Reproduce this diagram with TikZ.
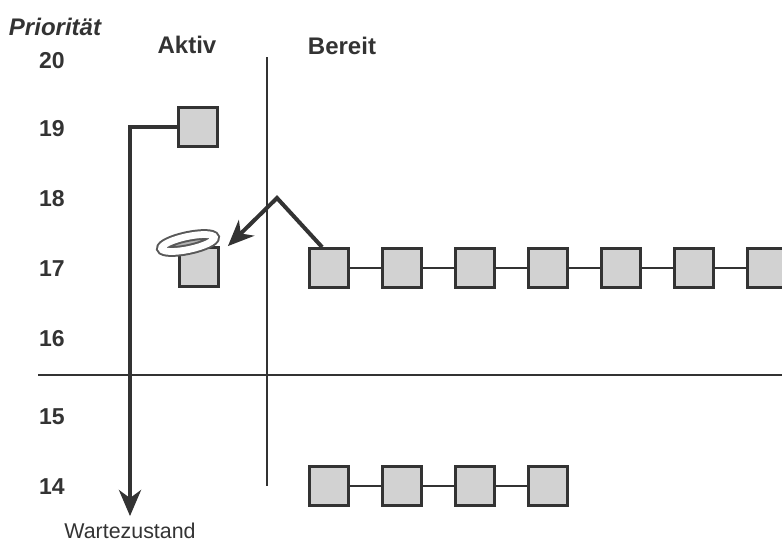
\documentclass[tikz,border=0pt]{standalone}
\usepackage{fontspec}
\setmainfont{Liberation Sans}
\usetikzlibrary{arrows.meta,positioning,shapes.geometric}
\definecolor{ink}{HTML}{333333}
\definecolor{boxgray}{HTML}{D2D2D2}

\begin{document}
\begin{tikzpicture}[x=0.5pt,y=-0.5pt,>={Stealth[length=13pt,width=11pt,inset=4pt]},node distance=36.5pt,on grid,
	proc/.style={draw=ink,fill=boxgray,line width=1.4pt,minimum size=19.5pt,inner sep=0pt},
	link/.style={-,draw=ink,line width=0.9pt},
	move/.style={->,draw=ink,line width=2pt},
	prio/.style={text=ink,font=\fontsize{11.5}{13}\selectfont\bfseries},
	head/.style={text=ink,font=\fontsize{12}{14}\selectfont\bfseries}]
	\useasboundingbox (0,0) rectangle (782,543);
	
	% Achsen
	\draw[ink,line width=1pt] (267,57) -- (267,486);
	\draw[ink,line width=1pt] (38,375) -- (782,375);
	
	\node[head,font=\fontsize{12}{14}\selectfont\bfseries\itshape] (prio) at (55,27) {Priorität};
	\node[head] (aktiv)  at (187,45) {Aktiv};
	\node[head] (bereit) at (342,46) {Bereit};
	\foreach \n/\y in {20/61,19/129,18/199,17/269,16/339,15/417,14/487}
		\node[prio] (p\n) at (52,\y) {\n};
	
	% aktive Prozesse
	\node[proc] (a19) at (198,127) {};
	\node[proc] (a17) at (199,267) {};
	\node[draw=gray!70!black,double=white,double distance=3.4pt,line width=1pt,fill=gray!60,
		ellipse,minimum width=27pt,minimum height=6.5pt,inner sep=0pt,rotate=12] (halo) at (188,243) {};
	
	% Warteschlangen
	\node[proc] (r1) at (329,268) {};
	\foreach \i [remember=\i as \j (initially 1)] in {2,...,7}
		\node[proc] (r\i) [right =of r\j] {};
	\node[proc] (w1) at (329,486) {};
	\foreach \i [remember=\i as \j (initially 1)] in {2,...,4}
		\node[proc] (w\i) [right =of w\j] {};
	\foreach \i [remember=\i as \j (initially 1)] in {2,...,7}
		\path (r\j) edge [link] (r\i);
	\foreach \i [remember=\i as \j (initially 1)] in {2,...,4}
		\path (w\j) edge [link] (w\i);
	
	% Uebergaenge
	\coordinate (bend) at (277,198);
	\draw[move] ([xshift=7pt]r1.north west) -- (bend) -- ([xshift=4pt]a17.north east);
	\node[text=ink,font=\fontsize{10.7}{12}\selectfont] (wz) at (130,531) {Wartezustand};
	\draw[move] (a19.west) -| (wz.north);
	
\end{tikzpicture}
\end{document}
